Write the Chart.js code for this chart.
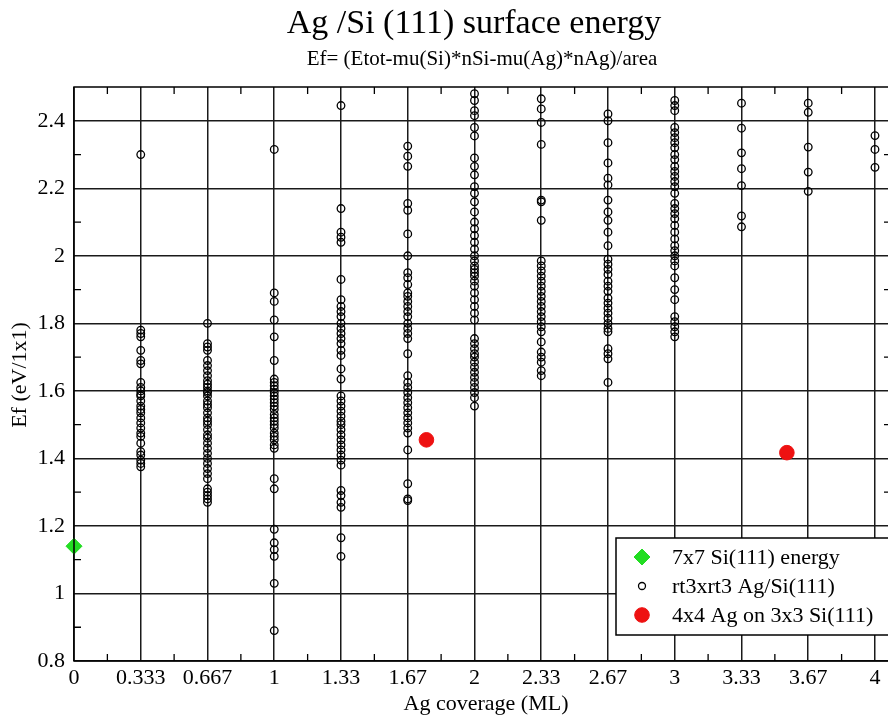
<!DOCTYPE html>
<html>
<head>
<meta charset="utf-8">
<script src="https://cdn.jsdelivr.net/npm/chart.js@4.4.1/dist/chart.umd.min.js"></script>
<style>
  html, body { margin: 0; padding: 0; background: #fff; overflow: hidden; }
  #wrap { width: 888px; height: 721px; overflow: hidden; }
</style>
</head>
<body>
<div id="wrap"><canvas id="surfChart" width="900" height="721"></canvas></div>
<script>
// tick values / labels
const xTickVals = [0, 1/3, 2/3, 1, 4/3, 5/3, 2, 7/3, 8/3, 3, 10/3, 11/3, 4];
const xTickLabels = ["0", "0.333", "0.667", "1", "1.33", "1.67", "2", "2.33", "2.67", "3", "3.33", "3.67", "4"];
const yTickVals = [0.8, 1, 1.2, 1.4, 1.6, 1.8, 2, 2.2, 2.4];
const yTickLabels = ["0.8", "1", "1.2", "1.4", "1.6", "1.8", "2", "2.2", "2.4"];
const xMinor = [1/6, 0.5, 5/6, 7/6, 1.5, 11/6, 13/6, 2.5, 17/6, 19/6, 3.5, 23/6];
const yMinor = [0.9, 1.1, 1.3, 1.5, 1.7, 1.9, 2.1, 2.3];

// rt3xrt3 Ag/Si(111) energies per coverage column
const coverages = [1/3, 2/3, 1, 4/3, 5/3, 2, 7/3, 8/3, 3, 10/3, 11/3, 4];
const e033 = [2.30, 1.78, 1.77, 1.76, 1.72, 1.69, 1.68, 1.625, 1.61, 1.60, 1.59, 1.585, 1.57, 1.555, 1.545, 1.535, 1.52, 1.505, 1.49, 1.475, 1.465, 1.445, 1.42, 1.41, 1.395, 1.385, 1.375];
const e067 = [1.80, 1.74, 1.73, 1.72, 1.69, 1.675, 1.66, 1.645, 1.63, 1.62, 1.61, 1.60, 1.595, 1.585, 1.57, 1.56, 1.55, 1.535, 1.52, 1.51, 1.50, 1.485, 1.47, 1.46, 1.445, 1.43, 1.415, 1.40, 1.385, 1.37, 1.355, 1.34, 1.31, 1.30, 1.29, 1.28, 1.27];
const e100 = [2.315, 1.89, 1.865, 1.81, 1.76, 1.69, 1.635, 1.625, 1.615, 1.605, 1.595, 1.585, 1.575, 1.565, 1.555, 1.545, 1.53, 1.52, 1.51, 1.50, 1.49, 1.475, 1.465, 1.455, 1.44, 1.43, 1.34, 1.31, 1.19, 1.15, 1.13, 1.11, 1.03, 0.89];
const e133 = [2.445, 2.14, 2.07, 2.055, 2.04, 1.93, 1.87, 1.85, 1.835, 1.82, 1.80, 1.785, 1.77, 1.755, 1.74, 1.72, 1.705, 1.665, 1.635, 1.585, 1.57, 1.555, 1.54, 1.525, 1.51, 1.50, 1.485, 1.47, 1.455, 1.44, 1.425, 1.41, 1.395, 1.38, 1.305, 1.29, 1.27, 1.255, 1.165, 1.11];
const e167 = [2.325, 2.295, 2.265, 2.155, 2.135, 2.065, 2.00, 1.95, 1.935, 1.915, 1.89, 1.88, 1.865, 1.85, 1.835, 1.82, 1.80, 1.785, 1.77, 1.755, 1.71, 1.645, 1.625, 1.61, 1.595, 1.58, 1.565, 1.55, 1.535, 1.52, 1.505, 1.49, 1.475, 1.425, 1.325, 1.28, 1.275];
const e200 = [2.48, 2.46, 2.43, 2.415, 2.38, 2.355, 2.29, 2.265, 2.24, 2.205, 2.185, 2.16, 2.13, 2.10, 2.08, 2.06, 2.04, 2.02, 2.00, 1.985, 1.97, 1.96, 1.95, 1.94, 1.925, 1.91, 1.89, 1.87, 1.85, 1.83, 1.81, 1.755, 1.74, 1.725, 1.71, 1.70, 1.685, 1.67, 1.655, 1.64, 1.625, 1.61, 1.595, 1.58, 1.555];
const e233 = [2.465, 2.435, 2.395, 2.33, 2.165, 2.16, 2.105, 1.985, 1.97, 1.955, 1.94, 1.925, 1.91, 1.895, 1.88, 1.865, 1.85, 1.835, 1.82, 1.805, 1.79, 1.775, 1.745, 1.715, 1.70, 1.685, 1.66, 1.645];
const e267 = [2.42, 2.40, 2.335, 2.275, 2.23, 2.21, 2.165, 2.13, 2.105, 2.07, 2.03, 1.99, 1.975, 1.96, 1.945, 1.925, 1.91, 1.895, 1.875, 1.86, 1.845, 1.83, 1.815, 1.80, 1.785, 1.775, 1.725, 1.71, 1.695, 1.625];
const e300 = [2.46, 2.445, 2.43, 2.38, 2.365, 2.35, 2.335, 2.32, 2.30, 2.285, 2.265, 2.25, 2.235, 2.22, 2.205, 2.185, 2.155, 2.14, 2.125, 2.11, 2.09, 2.07, 2.05, 2.03, 2.015, 2.00, 1.985, 1.97, 1.935, 1.90, 1.87, 1.82, 1.805, 1.79, 1.775, 1.76];
const e333 = [2.452, 2.378, 2.305, 2.258, 2.208, 2.118, 2.086];
const e367 = [2.452, 2.425, 2.322, 2.248, 2.191];
const e400 = [2.356, 2.315, 2.262];
const rt3Cols = [e033, e067, e100, e133, e167, e200, e233, e267, e300, e333, e367, e400];

// 7x7 Si(111) and 4x4 Ag points
const si7x7X = [0];
const si7x7Y = [1.14];
const ag4x4X = [1.76, 3.56];
const ag4x4Y = [1.455, 1.417];

const serif = "'Liberation Serif', 'DejaVu Serif', serif";

const rt3Data = [];
rt3Cols.forEach((col, i) => {
    col.forEach(v => rt3Data.push({ x: coverages[i], y: v }));
});

const frame = {
    id: "frame",
    afterDatasetsDraw(chart) {
        const { ctx, chartArea: a, scales } = chart;
        ctx.save();
        ctx.strokeStyle = "#000";
        ctx.lineWidth = 1.5;
        ctx.strokeRect(a.left, a.top, a.right - a.left, a.bottom - a.top);

        // minor ticks, pointing inward
        ctx.lineWidth = 1.3;
        ctx.beginPath();
        xMinor.forEach(v => {
            const px = scales.x.getPixelForValue(v);
            ctx.moveTo(px, a.bottom); ctx.lineTo(px, a.bottom - 7);
            ctx.moveTo(px, a.top); ctx.lineTo(px, a.top + 7);
        });
        yMinor.forEach(v => {
            const py = scales.y.getPixelForValue(v);
            ctx.moveTo(a.left, py); ctx.lineTo(a.left + 7, py);
            ctx.moveTo(a.right, py); ctx.lineTo(a.right - 7, py);
        });
        ctx.stroke();

        // legend box
        const lx = 616, ly = 538;
        ctx.fillStyle = "#fff";
        ctx.fillRect(lx, ly, 320, 97);
        ctx.lineWidth = 1.5;
        ctx.strokeStyle = "#000";
        ctx.strokeRect(lx, ly, 320, 97);
        const rows = [557, 586, 615];
        chart.data.datasets.forEach((d, i) => {
            const r = i === 1 ? 3.5 : d.pointRadius;
            ctx.fillStyle = d.backgroundColor;
            ctx.strokeStyle = d.borderColor;
            ctx.lineWidth = d.borderWidth;
            ctx.beginPath();
            if (d.pointStyle === "rectRot") {
                ctx.moveTo(642, rows[i] - r); ctx.lineTo(642 + r, rows[i]);
                ctx.lineTo(642, rows[i] + r); ctx.lineTo(642 - r, rows[i]);
                ctx.closePath();
            } else {
                ctx.arc(642, rows[i], r, 0, Math.PI * 2);
            }
            ctx.fill();
            ctx.stroke();
            ctx.fillStyle = "#000";
            ctx.font = "22px " + serif;
            ctx.textAlign = "left";
            ctx.textBaseline = "middle";
            ctx.fillText(d.label, 672, rows[i] + 1);
        });

        // titles
        ctx.fillStyle = "#000";
        ctx.textAlign = "center";
        ctx.textBaseline = "middle";
        ctx.font = "34px " + serif;
        ctx.fillText("Ag /Si (111) surface energy", 474, 24);
        ctx.font = "21px " + serif;
        ctx.fillText("Ef= (Etot-mu(Si)*nSi-mu(Ag)*nAg)/area", 482, 59);
        ctx.font = "22px " + serif;
        ctx.fillText("Ag coverage (ML)", 486, 704);
        ctx.save();
        ctx.translate(20, 375);
        ctx.rotate(-Math.PI / 2);
        ctx.fillText("Ef (eV/1x1)", 0, 0);
        ctx.restore();
        ctx.restore();
    }
};

const ctx = document.getElementById("surfChart");

new Chart(ctx, {
    type: "scatter",
    data: {
        datasets: [
            {
                label: "7x7 Si(111) energy",
                data: si7x7X.map((x, i) => ({ x, y: si7x7Y[i] })),
                pointStyle: "rectRot",
                pointRadius: 8,
                backgroundColor: "#22dd22",
                borderColor: "#22dd22",
                borderWidth: 1,
                clip: 10,
                order: 1
            },
            {
                label: "rt3xrt3 Ag/Si(111)",
                data: rt3Data,
                pointStyle: "circle",
                pointRadius: 3.8,
                backgroundColor: "rgba(0,0,0,0)",
                borderColor: "#000",
                borderWidth: 1.3,
                order: 3
            },
            {
                label: "4x4 Ag on 3x3 Si(111)",
                data: ag4x4X.map((x, i) => ({ x, y: ag4x4Y[i] })),
                pointStyle: "circle",
                pointRadius: 7.3,
                backgroundColor: "#ee1111",
                borderColor: "#ee1111",
                borderWidth: 1,
                order: 2
            }
        ]
    },
    options: {
        responsive: false,
        animation: false,
        layout: { padding: { left: 0, right: 8, top: 87, bottom: 0 } },
        plugins: {
            legend: { display: false },
            tooltip: { enabled: false }
        },
        scales: {
            x: {
                type: "linear",
                min: 0,
                max: 4.08,
                afterBuildTicks: s => { s.ticks = xTickVals.map(v => ({ value: v })); },
                afterFit: s => { s.height = 60; },
                grid: { color: "#1a1a1a", lineWidth: 1.5, drawTicks: false },
                border: { display: false },
                ticks: {
                    padding: 4,
                    color: "#000",
                    font: { family: serif, size: 22 },
                    maxRotation: 0,
                    autoSkip: false,
                    callback: (v, i) => xTickLabels[i]
                }
            },
            y: {
                type: "linear",
                min: 0.8,
                max: 2.5,
                afterBuildTicks: s => { s.ticks = yTickVals.map(v => ({ value: v })); },
                afterFit: s => { s.width = 74; },
                grid: { color: "#1a1a1a", lineWidth: 1.5, drawTicks: false },
                border: { display: false },
                ticks: {
                    padding: 9,
                    color: "#000",
                    font: { family: serif, size: 22 },
                    autoSkip: false,
                    callback: (v, i) => yTickLabels[i]
                }
            }
        }
    },
    plugins: [frame]
});
</script>
</body>
</html>
